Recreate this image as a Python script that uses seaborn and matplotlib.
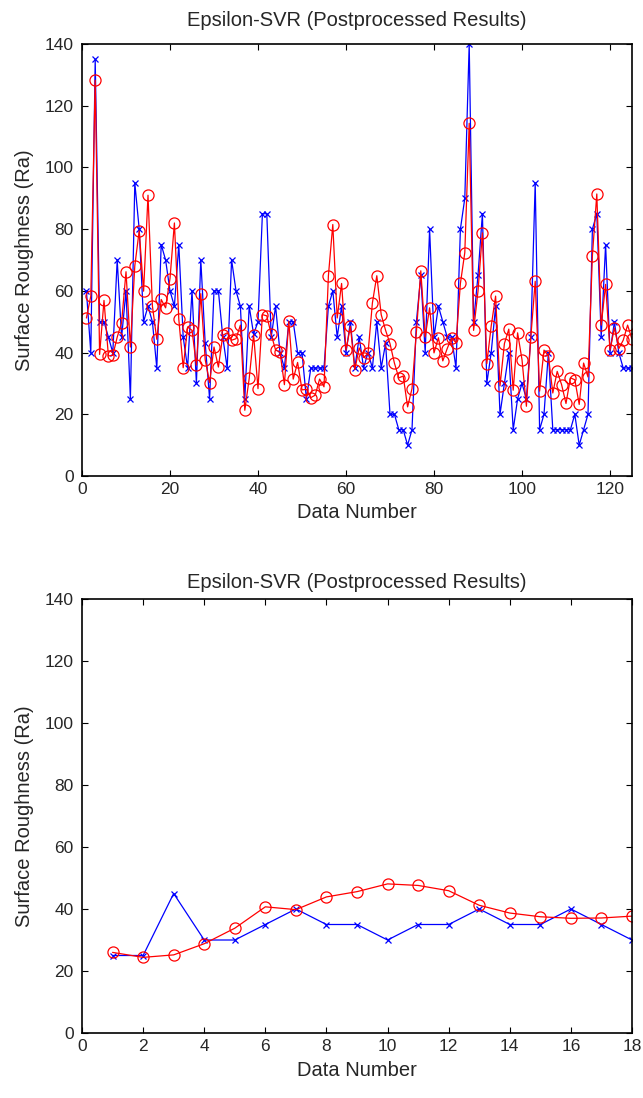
import numpy as np
import pandas as pd
import matplotlib
matplotlib.use("Agg")
import matplotlib.pyplot as plt
import seaborn as sns

# ----------------------------
# 1. Data
# ----------------------------
# top panel: 125 samples
measured_all = [
    60, 40, 135, 50, 50, 45, 40, 70, 45, 60,
    25, 95, 80, 50, 55, 50, 35, 75, 70, 60,
    55, 75, 45, 35, 60, 30, 70, 43, 25, 60,
    60, 45, 35, 70, 60, 55, 25, 55, 46, 50,
    85, 85, 45, 55, 40, 35, 50, 50, 40, 40,
    25, 35, 35, 35, 35, 55, 60, 45, 55, 40,
    50, 35, 45, 35, 40, 35, 50, 35, 43, 20,
    20, 15, 15, 10, 15, 50, 65, 40, 80, 45,
    55, 50, 45, 45, 35, 80, 90, 140, 50, 65,
    85, 30, 40, 55, 20, 30, 40, 15, 25, 30,
    25, 45, 95, 15, 20, 40, 15, 15, 15, 15,
    15, 20, 10, 15, 20, 80, 85, 45, 75, 40,
    50, 40, 35, 35, 35,
]
predicted_all = [
    51.2, 58.3, 128.3, 39.4, 56.9, 38.9, 39.1, 45.0, 49.7, 66.2,
    41.8, 68.1, 79.5, 59.9, 91.0, 55.1, 44.3, 57.2, 54.5, 64.0,
    82.0, 50.8, 35.1, 48.3, 47.2, 35.9, 59.1, 37.7, 30.3, 41.8,
    35.3, 45.6, 46.4, 44.0, 44.5, 48.9, 21.3, 31.6, 45.8, 28.3,
    52.3, 51.9, 45.9, 40.8, 40.2, 29.6, 50.2, 31.4, 36.8, 27.9,
    28.1, 25.4, 26.2, 31.4, 28.9, 64.9, 81.5, 51.2, 62.4, 40.8,
    48.5, 34.5, 41.5, 38.4, 39.7, 56.1, 64.9, 52.3, 47.2, 42.9,
    36.6, 31.8, 32.4, 22.4, 28.3, 46.7, 66.5, 45.1, 54.5, 39.9,
    44.8, 37.3, 41.3, 44.8, 43.2, 62.4, 72.4, 114.3, 47.2, 59.9,
    78.8, 36.4, 48.6, 58.3, 29.2, 42.9, 47.6, 27.8, 46.4, 37.7,
    22.6, 44.9, 63.1, 27.5, 40.8, 38.9, 26.9, 33.9, 29.6, 23.5,
    31.8, 31.2, 23.2, 36.6, 32.1, 71.4, 91.4, 48.9, 62.1, 40.8,
    48.0, 41.3, 44.0, 48.9, 44.3,
]

# bottom panel: 18 samples
measured_test = [25, 25, 45, 30, 30, 35, 40, 35, 35, 30, 35, 35, 40, 35, 35, 40, 35, 30]
predicted_test = [26.0, 24.4, 25.2, 28.8, 33.8, 40.7, 39.8, 43.9, 45.6,
                  48.1, 47.6, 45.9, 41.2, 38.7, 37.5, 37.0, 37.1, 37.7]

title = "Epsilon-SVR (Postprocessed Results)"
xlabel = "Data Number"
ylabel = "Surface Roughness (Ra)"
yticks = [0, 20, 40, 60, 80, 100, 120, 140]
xticks_all = [0, 20, 40, 60, 80, 100, 120]
xticks_test = list(range(0, 19, 2))

# ----------------------------
# 2. Style
# ----------------------------
sns.set_style("ticks")
plt.rcParams['font.family'] = ['Liberation Sans', 'DejaVu Sans']
plt.rcParams['xtick.direction'] = 'in'
plt.rcParams['ytick.direction'] = 'in'
plt.rcParams['xtick.top'] = True
plt.rcParams['ytick.right'] = True
plt.rcParams['axes.linewidth'] = 1.2
plt.rcParams['axes.edgecolor'] = 'black'

fig = plt.figure(figsize=(6.43, 10.98), dpi=100)
W, H = 643, 1098
ax_top = fig.add_axes([82 / W, (H - 476) / H, 550 / W, 432 / H])
ax_bot = fig.add_axes([82 / W, (H - 1033) / H, 550 / W, 434 / H])


def draw_panel(ax, measured, predicted, xmax, xticks, title_pad):
    df = pd.DataFrame({
        'n': np.arange(1, len(measured) + 1),
        'measured': measured,
        'predicted': predicted,
    })
    sns.lineplot(data=df, x='n', y='measured', ax=ax, color='blue',
                 linewidth=0.9, marker='x', markersize=4.5,
                 markeredgecolor='blue', markeredgewidth=0.9)
    sns.lineplot(data=df, x='n', y='predicted', ax=ax, color='red',
                 linewidth=0.9, marker='o', markersize=8,
                 markerfacecolor='none', markeredgecolor='red',
                 markeredgewidth=0.9)
    ax.set_xlim(0, xmax)
    ax.set_ylim(0, 140)
    ax.set_xticks(xticks)
    ax.set_yticks(yticks)
    ax.tick_params(axis='both', which='major', labelsize=12.5, length=4,
                   width=0.8, color='black')
    ax.tick_params(axis='y', pad=6)
    ax.tick_params(axis='x', pad=4)
    ax.set_title(title, fontsize=14.5, pad=title_pad)
    ax.set_xlabel(xlabel, fontsize=14.5, labelpad=5)
    ax.set_ylabel(ylabel, fontsize=14.5, labelpad=8)
    for s in ax.spines.values():
        s.set_visible(True)


draw_panel(ax_top, measured_all, predicted_all, 125, xticks_all, 13)
draw_panel(ax_bot, measured_test, predicted_test, 18, xticks_test, 8)

fig.savefig("out.png", dpi=100)
